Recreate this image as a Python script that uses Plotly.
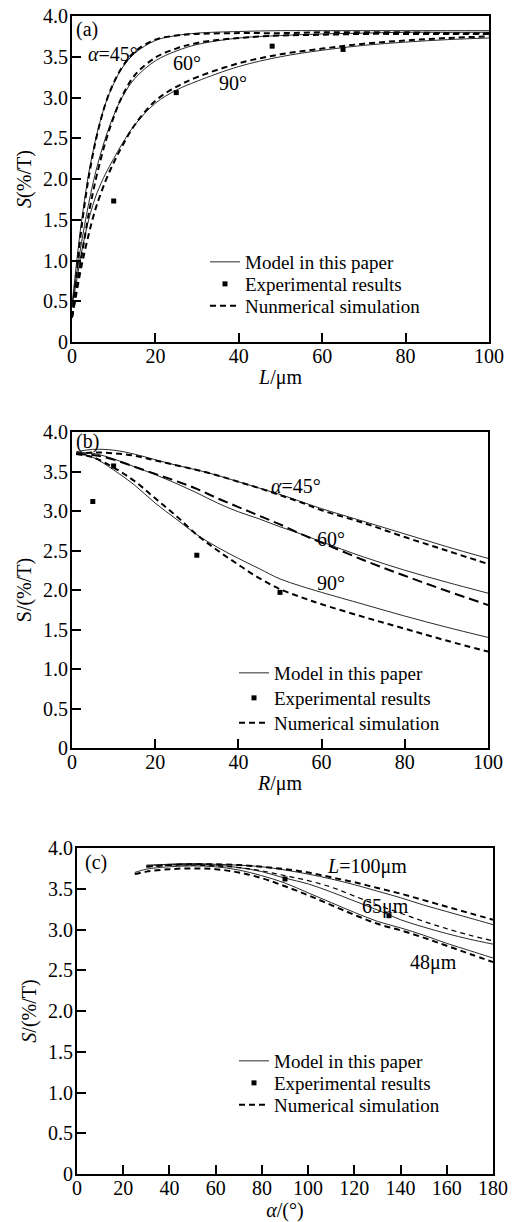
import plotly.graph_objects as go

W, H = 512, 1222

# ---------------- Panel (a): S vs L ----------------
a_L = [0, 1, 2, 3, 4, 5, 6, 8, 10, 12, 15, 20, 25, 30, 40, 50, 60, 70, 80, 90, 100]
a_model_45 = [0.45, 0.93, 1.37, 1.74, 2.07, 2.33, 2.56, 2.92, 3.17, 3.36, 3.54, 3.70, 3.76, 3.79, 3.81, 3.82, 3.82, 3.82, 3.82, 3.82, 3.82]
a_sim_45 = [0.30, 0.80, 1.28, 1.68, 2.02, 2.30, 2.54, 2.92, 3.18, 3.37, 3.56, 3.71, 3.76, 3.78, 3.79, 3.79, 3.80, 3.80, 3.80, 3.79, 3.79]
a_model_60 = [0.45, 0.80, 1.13, 1.43, 1.70, 1.94, 2.15, 2.50, 2.78, 3.00, 3.23, 3.45, 3.57, 3.65, 3.73, 3.76, 3.78, 3.79, 3.80, 3.80, 3.80]
a_sim_60 = [0.30, 0.62, 0.95, 1.27, 1.57, 1.83, 2.06, 2.45, 2.76, 3.01, 3.27, 3.49, 3.60, 3.67, 3.73, 3.76, 3.77, 3.78, 3.78, 3.78, 3.78]
a_model_90 = [0.45, 0.72, 1.02, 1.28, 1.50, 1.68, 1.83, 2.06, 2.25, 2.43, 2.66, 2.93, 3.09, 3.20, 3.38, 3.50, 3.58, 3.64, 3.68, 3.71, 3.73]
a_sim_90 = [0.30, 0.58, 0.86, 1.10, 1.32, 1.52, 1.69, 1.97, 2.20, 2.40, 2.66, 2.96, 3.13, 3.25, 3.42, 3.53, 3.60, 3.66, 3.70, 3.73, 3.75]
a_exp_L = [10, 25, 48, 65]
a_exp_S = [1.73, 3.06, 3.63, 3.59]

# ---------------- Panel (b): S vs R ----------------
b_R = [1, 5, 10, 15, 20, 25, 30, 35, 40, 45, 50, 55, 60, 70, 80, 90, 100]
b_model_45 = [3.75, 3.78, 3.77, 3.72, 3.65, 3.58, 3.52, 3.45, 3.37, 3.29, 3.21, 3.12, 3.03, 2.87, 2.71, 2.55, 2.40]
b_sim_45 = [3.72, 3.74, 3.73, 3.70, 3.64, 3.58, 3.52, 3.45, 3.37, 3.29, 3.20, 3.11, 3.01, 2.85, 2.67, 2.50, 2.33]
b_model_60 = [3.74, 3.73, 3.66, 3.56, 3.46, 3.35, 3.23, 3.10, 2.99, 2.90, 2.80, 2.71, 2.61, 2.42, 2.25, 2.10, 1.96]
b_sim_60 = [3.72, 3.71, 3.65, 3.56, 3.47, 3.38, 3.28, 3.16, 3.05, 2.94, 2.83, 2.71, 2.60, 2.38, 2.18, 1.99, 1.81]
b_model_90 = [3.73, 3.68, 3.52, 3.33, 3.10, 2.90, 2.70, 2.54, 2.40, 2.27, 2.14, 2.05, 1.97, 1.82, 1.67, 1.53, 1.40]
b_sim_90 = [3.72, 3.68, 3.55, 3.38, 3.16, 2.94, 2.70, 2.50, 2.32, 2.15, 2.01, 1.91, 1.82, 1.66, 1.51, 1.36, 1.22]
b_exp_R = [5, 10, 30, 50]
b_exp_S = [3.12, 3.57, 2.44, 1.97]

# ---------------- Panel (c): S vs alpha ----------------
c_alpha = [30, 40, 50, 60, 70, 80, 90, 100, 110, 120, 130, 140, 150, 160, 170, 180]
c_alpha_48 = [25, 30, 40, 50, 60, 70, 80, 90, 100, 110, 120, 130, 140, 150, 160, 170, 180]
c_model_100 = [3.79, 3.80, 3.81, 3.80, 3.79, 3.77, 3.73, 3.68, 3.62, 3.55, 3.47, 3.39, 3.30, 3.22, 3.14, 3.06]
c_sim_100 = [3.77, 3.79, 3.80, 3.80, 3.79, 3.77, 3.74, 3.70, 3.64, 3.58, 3.51, 3.44, 3.36, 3.28, 3.20, 3.12]
c_model_65 = [3.78, 3.80, 3.80, 3.79, 3.76, 3.71, 3.63, 3.56, 3.46, 3.35, 3.24, 3.12, 3.03, 2.95, 2.88, 2.82]
c_sim_65 = [3.77, 3.79, 3.79, 3.78, 3.76, 3.72, 3.66, 3.60, 3.52, 3.41, 3.30, 3.20, 3.10, 3.01, 2.93, 2.86]
c_model_48 = [3.70, 3.74, 3.77, 3.78, 3.77, 3.73, 3.66, 3.57, 3.45, 3.33, 3.21, 3.10, 3.02, 2.93, 2.83, 2.74, 2.65]
c_sim_48 = [3.68, 3.71, 3.74, 3.75, 3.74, 3.70, 3.63, 3.53, 3.42, 3.30, 3.18, 3.07, 2.99, 2.90, 2.80, 2.70, 2.60]
c_exp_alpha = [90, 135]
c_exp_S = [3.62, 3.17]

y_ticks = [0, 0.5, 1.0, 1.5, 2.0, 2.5, 3.0, 3.5, 4.0]
y_ticktext = ["0", "0.5", "1.0", "1.5", "2.0", "2.5", "3.0", "3.5", "4.0"]
x_ticks_ab = [0, 20, 40, 60, 80, 100]
x_ticks_c = [0, 20, 40, 60, 80, 100, 120, 140, 160, 180]

FONT = "Liberation Serif"
MODEL_LINE = dict(color="#2a2a2a", width=1)
SIM_LINE = dict(color="black", width=2, dash="6px,4px")

fig = go.Figure()


def add_panel(model_sets, sim_sets, exp_x, exp_y, xa, ya, legs, sim_name):
    first = True
    for xs, ys in model_sets:
        fig.add_trace(go.Scatter(x=xs, y=ys, mode="lines", line=MODEL_LINE, line_shape="spline",
                                 name="Model in this paper", xaxis=xa, yaxis=ya,
                                 legend=legs[0], showlegend=first))
        first = False
    fig.add_trace(go.Scatter(x=exp_x, y=exp_y, mode="markers",
                             marker=dict(symbol="square", size=5, color="black"),
                             name="Experimental results", xaxis=xa, yaxis=ya,
                             legend=legs[1], showlegend=True))
    first = True
    for xs, ys, ln in sim_sets:
        fig.add_trace(go.Scatter(x=xs, y=ys, mode="lines", line=ln, line_shape="spline",
                                 name=sim_name, xaxis=xa, yaxis=ya,
                                 legend=legs[2], showlegend=first))
        first = False


add_panel([(a_L, a_model_45), (a_L, a_model_60), (a_L, a_model_90)],
          [(a_L, a_sim_45, SIM_LINE), (a_L, a_sim_60, SIM_LINE), (a_L, a_sim_90, SIM_LINE)],
          a_exp_L, a_exp_S, "x", "y", ["legend", "legend2", "legend3"], "Nunmerical simulation")

add_panel([(b_R, b_model_45), (b_R, b_model_60), (b_R, b_model_90)],
          [(b_R, b_sim_45, SIM_LINE), (b_R, b_sim_60, dict(color="black", width=2, dash="10px,5px")),
           (b_R, b_sim_90, SIM_LINE)],
          b_exp_R, b_exp_S, "x2", "y2", ["legend4", "legend5", "legend6"], "Numerical simulation")

add_panel([(c_alpha, c_model_100), (c_alpha, c_model_65), (c_alpha_48, c_model_48)],
          [(c_alpha, c_sim_100, SIM_LINE), (c_alpha, c_sim_65, dict(color="black", width=1.2, dash="5px,4px")),
           (c_alpha_48, c_sim_48, SIM_LINE)],
          c_exp_alpha, c_exp_S, "x3", "y3", ["legend7", "legend8", "legend9"], "Numerical simulation")


def px_x(p):
    return p / W


def px_y(p):
    return 1 - p / H


axis_common = dict(showline=True, linecolor="black", linewidth=2, mirror=True, automargin=False,
                   ticks="inside", ticklen=9, tickwidth=2, tickcolor="black",
                   showgrid=False, zeroline=False, tickfont=dict(size=20, family=FONT, color="black"))


def xaxis(dom, rng, tv, title, anchor):
    d = dict(axis_common)
    d.update(domain=[px_x(dom[0]), px_x(dom[1])], range=rng, tickvals=tv,
             ticktext=[str(v) for v in tv], anchor=anchor, ticklabelstandoff=-5,
             title=dict(text=title, standoff=4, font=dict(size=20, family=FONT, color="black")))
    return d


def yaxis(dom, title, anchor):
    d = dict(axis_common)
    d.update(domain=[px_y(dom[1]), px_y(dom[0])], range=[0, 4], tickvals=y_ticks,
             ticktext=y_ticktext, anchor=anchor, ticklabelstandoff=-2,
             title=dict(text=title, standoff=6, font=dict(size=20, family=FONT, color="black")))
    return d


def leg(x_left_px, center_px):
    return dict(x=px_x(x_left_px), y=px_y(center_px - 19), xanchor="left", yanchor="top",
                bgcolor="rgba(0,0,0,0)", borderwidth=0, itemwidth=30,
                font=dict(size=19, family=FONT, color="black"))


layout = dict(
    template="none",
    width=W, height=H, margin=dict(l=0, r=0, t=0, b=0, autoexpand=False),
    paper_bgcolor="white", plot_bgcolor="white",
    font=dict(family=FONT, size=20, color="black"),
    xaxis=xaxis((72, 489), [0, 100], x_ticks_ab, "<i>L</i>/μm", "y"),
    yaxis=yaxis((16, 342), "<i>S</i>(%/T)", "x"),
    xaxis2=xaxis((72, 488), [0, 100], x_ticks_ab, "<i>R</i>/μm", "y2"),
    yaxis2=yaxis((432, 748), "S/(%/T)", "x2"),
    xaxis3=xaxis((77, 493), [0, 180], x_ticks_c, "<i>α</i>/(°)", "y3"),
    yaxis3=yaxis((848, 1174), "<i>S</i>/(%/T)", "x3"),
    legend=leg(205, 262), legend2=leg(205, 284), legend3=leg(205, 306),
    legend4=leg(234, 673), legend5=leg(234, 698), legend6=leg(234, 723),
    legend7=leg(234, 1061), legend8=leg(234, 1083), legend9=leg(234, 1105),
)
fig.update_layout(**layout)

ann_font = dict(size=20, family=FONT, color="black")
labels = [
    ("x", "y", 3.6, 3.83, "(a)"),
    ("x", "y", 9.8, 3.53, "<i>α</i>=45°"),
    ("x", "y", 27.6, 3.42, "60°"),
    ("x", "y", 38.6, 3.18, "90°"),
    ("x2", "y2", 3.8, 3.88, "(b)"),
    ("x2", "y2", 53.9, 3.32, "<i>α</i>=45°"),
    ("x2", "y2", 62.3, 2.64, "60°"),
    ("x2", "y2", 62.3, 2.09, "90°"),
    ("x3", "y3", 8.1, 3.82, "(c)"),
    ("x3", "y3", 125.6, 3.77, "<i>L</i>=100μm"),
    ("x3", "y3", 133.6, 3.28, "65μm"),
    ("x3", "y3", 154.1, 2.59, "48μm"),
]
for xr, yr, xv, yv, t in labels:
    fig.add_annotation(x=xv, y=yv, xref=xr, yref=yr, text=t, showarrow=False,
                       xanchor="center", yanchor="middle", font=ann_font)

fig.write_html("out.html", config={"displayModeBar": False},
               post_script="document.body.style.margin='0px';document.body.style.overflow='hidden';")
